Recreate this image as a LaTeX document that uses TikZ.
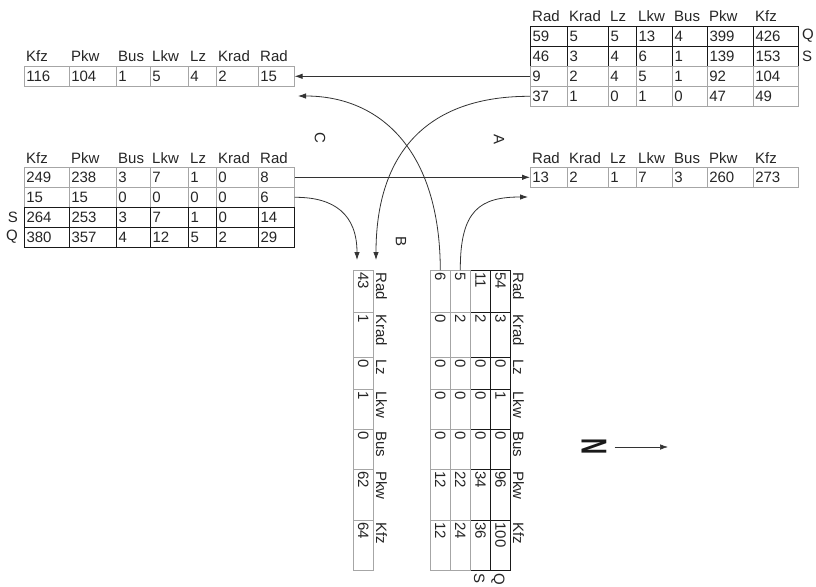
\documentclass[tikz,border=0pt]{standalone}
\usepackage{fontspec}
\setmainfont{Liberation Sans}
\usetikzlibrary{arrows.meta}

\newcommand\cellfont{\fontsize{15}{16}\selectfont}

\begin{document}
\begin{tikzpicture}[
    x=1pt, y=-1pt, % pixel units, y pointing down
    >={Latex[length=8pt, width=5.5pt]}, % default arrow tip
    flow/.style={->, line width=0.8pt, black!80},
    cell/.style={draw=black!35, line width=0.6pt, inner xsep=2pt, inner ysep=0pt,
        minimum height=20pt, align=left, text=black!85, font=\cellfont},
    sumcell/.style={cell, draw=black!90, line width=1.1pt},
    head/.style={inner sep=0pt, text=black!85, font=\cellfont}
]

    % Page frame
    \useasboundingbox[fill=white] (0,0) rectangle (816,586);

    % Column edges of the tables
    \def\redge{{530,567,608,636,672,707,753,798}} % right side, Rad ... Kfz
    \def\ledge{{24,69,116,150,188,216,258,294}}   % left side, Kfz ... Rad
    \def\bedge{{270,312,357,389,429,469,520,570}} % bottom, Rad ... Kfz (downwards)

    % Column heads, right side
    \foreach \lab [count=\c] in {Rad,Krad,Lz,Lkw,Bus,Pkw,Kfz} {
        \pgfmathsetmacro\x{\redge[\c-1]+2}
        \node[head, anchor=base west] (trh-\c) at (\x,22) {\lab};
        \node[head, anchor=base west] (mrh-\c) at (\x,163) {\lab};
    }
    % Column heads, left side
    \foreach \lab [count=\c] in {Kfz,Pkw,Bus,Lkw,Lz,Krad,Rad} {
        \pgfmathsetmacro\x{\ledge[\c-1]+2}
        \node[head, anchor=base west] (tlh-\c) at (\x,62) {\lab};
        \node[head, anchor=base west] (mlh-\c) at (\x,163) {\lab};
    }
    % Column heads, bottom (turned)
    \foreach \lab [count=\c] in {Rad,Krad,Lz,Lkw,Bus,Pkw,Kfz} {
        \pgfmathsetmacro\y{\bedge[\c-1]+2}
        \node[head, rotate=-90, anchor=base west] (blh-\c) at (376,\y) {\lab};
        \node[head, rotate=-90, anchor=base west] (brh-\c) at (513,\y) {\lab};
    }

    % Top right table
    \foreach \vals/\sty [count=\r] in {{59,5,5,13,4,399,426}/sumcell,
            {46,3,4,6,1,139,153}/sumcell, {9,2,4,5,1,92,104}/cell, {37,1,0,1,0,47,49}/cell} {
        \foreach \v [count=\c] in \vals {
            \pgfmathsetmacro\x{\redge[\c-1]}
            \pgfmathsetmacro\tw{\redge[\c]-\redge[\c-1]-4}
            \node[\sty, text width=\tw pt, anchor=north west] (tr-\r-\c) at (\x,6+20*\r) {\v};
        }
    }
    \node[head, anchor=west] (trQ) at (802,36) {Q};
    \node[head, anchor=west] (trS) at (802,56) {S};

    % Middle right table
    \foreach \v [count=\c] in {13,2,1,7,3,260,273} {
        \pgfmathsetmacro\x{\redge[\c-1]}
        \pgfmathsetmacro\tw{\redge[\c]-\redge[\c-1]-4}
        \node[cell, text width=\tw pt, anchor=north west] (mr-1-\c) at (\x,167) {\v};
    }

    % Top left table
    \foreach \v [count=\c] in {116,104,1,5,4,2,15} {
        \pgfmathsetmacro\x{\ledge[\c-1]}
        \pgfmathsetmacro\tw{\ledge[\c]-\ledge[\c-1]-4}
        \node[cell, text width=\tw pt, anchor=north west] (tl-1-\c) at (\x,66) {\v};
    }

    % Middle left table
    \foreach \vals/\sty [count=\r] in {{249,238,3,7,1,0,8}/cell, {15,15,0,0,0,0,6}/cell,
            {264,253,3,7,1,0,14}/sumcell, {380,357,4,12,5,2,29}/sumcell} {
        \foreach \v [count=\c] in \vals {
            \pgfmathsetmacro\x{\ledge[\c-1]}
            \pgfmathsetmacro\tw{\ledge[\c]-\ledge[\c-1]-4}
            \node[\sty, text width=\tw pt, anchor=north west] (ml-\r-\c) at (\x,147+20*\r) {\v};
        }
    }
    \node[head, anchor=east] (mlS) at (18,217) {S};
    \node[head, anchor=east] (mlQ) at (18,237) {Q};

    % Bottom left table (turned)
    \foreach \v [count=\c] in {43,1,0,1,0,62,64} {
        \pgfmathsetmacro\y{\bedge[\c-1]}
        \pgfmathsetmacro\tw{\bedge[\c]-\bedge[\c-1]-4}
        \node[cell, rotate=-90, text width=\tw pt, anchor=south west] (bl-1-\c) at (353,\y) {\v};
    }

    % Bottom right table (turned)
    \foreach \vals/\sty/\x [count=\r] in {{54,3,0,1,0,96,100}/sumcell/490,
            {11,2,0,0,0,34,36}/sumcell/470, {5,2,0,0,0,22,24}/cell/450, {6,0,0,0,0,12,12}/cell/430} {
        \foreach \v [count=\c] in \vals {
            \pgfmathsetmacro\y{\bedge[\c-1]}
            \pgfmathsetmacro\tw{\bedge[\c]-\bedge[\c-1]-4}
            \node[\sty, rotate=-90, text width=\tw pt, anchor=south west] (br-\r-\c) at (\x,\y) {\v};
        }
    }
    \node[head, rotate=-90, anchor=base west] (brS) at (474,573) {S};
    \node[head, rotate=-90, anchor=base west] (brQ) at (494,573) {Q};

    % Flow labels
    \node[head, rotate=-90] (A) at (499,140) {A};
    \node[head, rotate=-90] (B) at (401,241) {B};
    \node[head, rotate=-90] (C) at (320,138) {C};

    % Free arrow ends
    \coordinate (bl in1) at (357,260);
    \coordinate (bl in2) at (376,260);
    \coordinate (tl in2) at (298,96);
    \coordinate (mr in2) at (528,197);

    % Flows between the tables
    \draw[flow] (tr-3-1.west) -- (tl-1-7.east);
    \draw[flow] (tr-4-1.west) .. controls (430,96) and (376,150) .. (bl in2);
    \draw[flow] (ml-1-7.east) -- (mr-1-1.west);
    \draw[flow] (ml-2-7.east) .. controls (335,197) and (357,215) .. (bl in1);
    \draw[flow] (br-4-1.west) .. controls (440,150) and (380,96) .. (tl in2);
    \draw[flow] (br-3-1.west) .. controls (460,210) and (480,197) .. (mr in2);

    % North arrow
    \node[rotate=-90, xscale=0.62, inner sep=0pt, text=black!90,
        font=\bfseries\fontsize{36}{36}\selectfont] (N) at (594,447) {N};
    \coordinate (N tip) at (668,447);
    \draw[flow, line width=0.6pt, shorten <=8pt] (N.north) -- (N tip);

\end{tikzpicture}
\end{document}
